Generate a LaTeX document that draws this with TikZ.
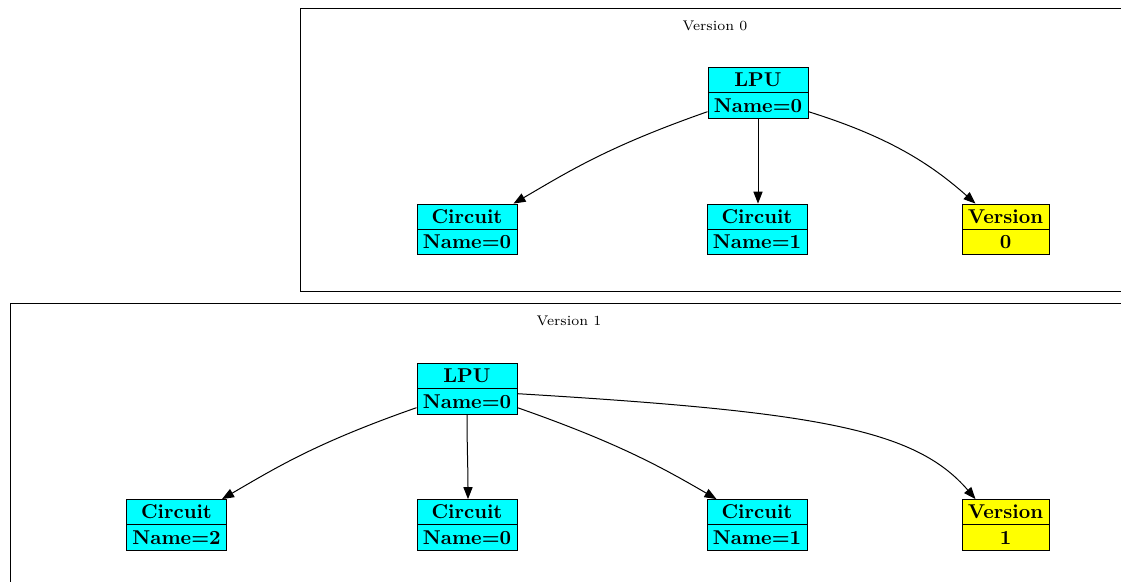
\documentclass[tikz,border=0pt]{standalone}
\usetikzlibrary{positioning,arrows.meta,shapes.multipart}

\definecolor{aqua}{RGB}{0,255,255}
\definecolor{lemon}{RGB}{255,255,0}

% fixed height for each record field
\newcommand\cellstrut{\rule[-2.75pt]{0pt}{12.2pt}}

\begin{document}
\begin{tikzpicture}[
  x=0.5pt, y=0.5pt,
  rec/.style={rectangle split, rectangle split parts=2, draw, line width=0.5pt,
    inner xsep=2pt, inner ysep=0pt, font=\bfseries},
  lpu/.style={rec, fill=aqua, minimum width=50pt},
  ver/.style={rec, fill=lemon, minimum width=43.5pt},
  cluster/.style={draw, line width=0.5pt},
  title/.style={font=\scriptsize},
  edge/.style={line width=0.5pt, -{Triangle[length=6pt,width=4.6pt]}}
]
% Scale: 1 unit = 1 px
\clip (0,0) rectangle (1121,-582);

% Version 0
\draw[cluster] (300,-9) rectangle (1140,-292);
\node[title] (tA) at (715,-26) {Version 0};
\node[lpu] (lpuA) at (758,-93) {\cellstrut LPU\nodepart{two}\cellstrut Name=0};
\node[lpu] (cirA0) at (467,-229.5) {\cellstrut Circuit\nodepart{two}\cellstrut Name=0};
\node[lpu] (cirA1) at (757,-229.5) {\cellstrut Circuit\nodepart{two}\cellstrut Name=1};
\node[ver] (verA) at (1005.5,-229.5) {\cellstrut Version\nodepart{two}\cellstrut 0};

\draw[edge] ([yshift=-3pt]lpuA.two west) .. controls +(-100,-35) and +(55,32) .. ([xshift=-2pt]cirA0.north east);
\draw[edge] (lpuA.south) -- (lpuA.south |- cirA1.north);
\draw[edge] ([yshift=-3pt]lpuA.two east) .. controls +(80,-25) and +(-45,40) .. ([xshift=7pt]verA.north west);

% Version 1
\draw[cluster] (10,-304) rectangle (1140,-600);
\node[title] (tB) at (569,-321) {Version 1};
\node[lpu] (lpuB) at (467,-389) {\cellstrut LPU\nodepart{two}\cellstrut Name=0};
\node[lpu] (cirB2) at (176.5,-525) {\cellstrut Circuit\nodepart{two}\cellstrut Name=2};
\node[lpu] (cirB0) at (467,-525) {\cellstrut Circuit\nodepart{two}\cellstrut Name=0};
\node[lpu] (cirB1) at (757,-525) {\cellstrut Circuit\nodepart{two}\cellstrut Name=1};
\node[ver] (verB) at (1005.5,-525) {\cellstrut Version\nodepart{two}\cellstrut 1};

\draw[edge] ([yshift=-3pt]lpuB.two west) .. controls +(-100,-35) and +(55,32) .. ([xshift=-2.5pt]cirB2.north east);
\draw[edge] (lpuB.south) .. controls +(0,-30) and +(0,30) .. ([xshift=0.5pt]cirB0.north);
\draw[edge] ([yshift=-3pt]lpuB.two east) .. controls +(100,-35) and +(-55,32) .. ([xshift=5pt]cirB1.north west);
\draw[edge] ([yshift=4pt]lpuB.two east) .. controls +(300,-18) and +(-60,70) .. ([xshift=7pt]verB.north west);
\end{tikzpicture}
\end{document}
